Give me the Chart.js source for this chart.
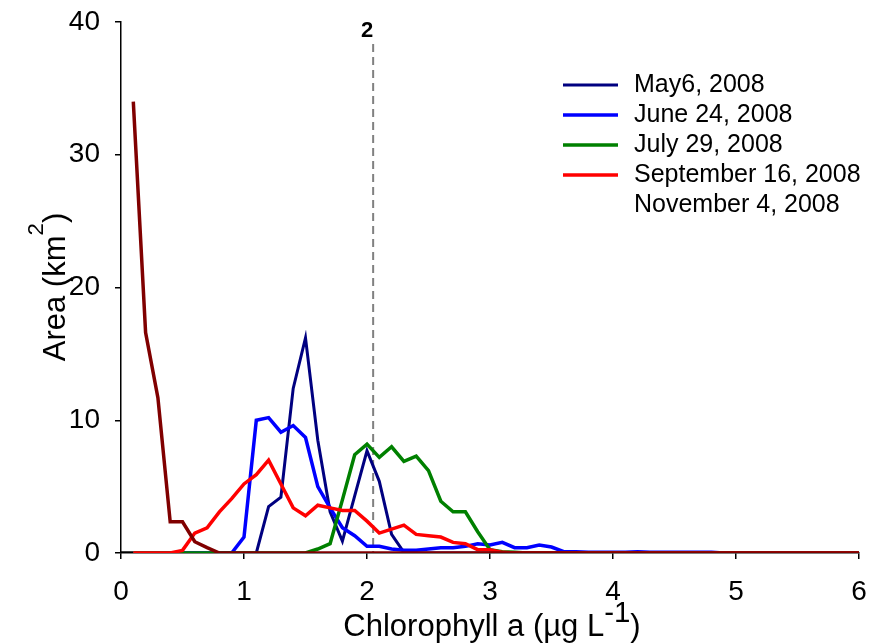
<!DOCTYPE html>
<html>
<head>
<meta charset="utf-8">
<script src="https://cdn.jsdelivr.net/npm/chart.js@4.4.1/dist/chart.umd.min.js"></script>
<style>
  html, body { margin: 0; padding: 0; background: #fff; }
</style>
</head>
<body>
<canvas id="grafico-clorofila" width="870" height="643"></canvas>
<script>
// Clorofila a (µg L-1), un valor cada 0.1
const clorofila = [
  0.1, 0.2, 0.3, 0.4, 0.5, 0.6, 0.7, 0.8, 0.9, 1.0,
  1.1, 1.2, 1.3, 1.4, 1.5, 1.6, 1.7, 1.8, 1.9, 2.0,
  2.1, 2.2, 2.3, 2.4, 2.5, 2.6, 2.7, 2.8, 2.9, 3.0,
  3.1, 3.2, 3.3, 3.4, 3.5, 3.6, 3.7, 3.8, 3.9, 4.0,
  4.1, 4.2, 4.3, 4.4, 4.5, 4.6, 4.7, 4.8, 4.9, 5.0,
  5.1, 5.2, 5.3, 5.4, 5.5, 5.6, 5.7, 5.8, 5.9, 6.0
];

// Area (km2) por fecha
const mayo6 = [
  0, 0, 0, 0, 0, 0, 0, 0, 0, 0,
  0, 3.5, 4.2, 12.4, 16.2, 8.5, 3.1, 0.9, 4.3, 7.7,
  5.4, 1.4, 0.05, 0, 0, 0, 0, 0, 0, 0,
  0, 0, 0, 0, 0, 0, 0, 0, 0, 0,
  0, 0, 0, 0, 0, 0, 0, 0, 0, 0,
  0, 0, 0, 0, 0, 0, 0, 0, 0, 0
];
const junio24 = [
  0, 0, 0, 0, 0, 0, 0, 0, 0, 1.2,
  10.0, 10.2, 9.1, 9.6, 8.7, 5.0, 3.4, 1.9, 1.3, 0.5,
  0.5, 0.3, 0.2, 0.2, 0.3, 0.4, 0.4, 0.5, 0.7, 0.6,
  0.8, 0.4, 0.4, 0.6, 0.45, 0.1, 0.1, 0.05, 0.05, 0.05,
  0.05, 0.1, 0.05, 0.05, 0.05, 0.05, 0.05, 0.05, 0, 0,
  0, 0, 0, 0, 0, 0, 0, 0, 0, 0
];
const julio29 = [
  0, 0, 0, 0, 0, 0, 0, 0, 0, 0,
  0, 0, 0, 0, 0, 0.3, 0.7, 4.0, 7.4, 8.2,
  7.2, 8.0, 6.9, 7.3, 6.2, 3.9, 3.1, 3.1, 1.6, 0.25,
  0.1, 0.05, 0, 0, 0, 0, 0, 0, 0, 0,
  0, 0, 0, 0, 0, 0, 0, 0, 0, 0,
  0, 0, 0, 0, 0, 0, 0, 0, 0, 0
];
const septiembre16 = [
  0, 0, 0, 0, 0.2, 1.5, 1.9, 3.1, 4.1, 5.2,
  5.9, 7.0, 5.2, 3.4, 2.8, 3.6, 3.4, 3.2, 3.2, 2.4,
  1.5, 1.8, 2.1, 1.4, 1.3, 1.2, 0.8, 0.7, 0.25, 0.25,
  0.05, 0, 0, 0, 0, 0, 0, 0, 0, 0,
  0, 0, 0, 0, 0, 0, 0, 0, 0, 0,
  0, 0, 0, 0, 0, 0, 0, 0, 0, 0
];
const noviembre4 = [
  34.0, 16.6, 11.7, 2.35, 2.35, 0.85, 0.4, 0, 0, 0,
  0, 0, 0, 0, 0, 0, 0, 0, 0, 0,
  0, 0, 0, 0, 0, 0, 0, 0, 0, 0,
  0, 0, 0, 0, 0, 0, 0, 0, 0, 0,
  0, 0, 0, 0, 0, 0, 0, 0, 0, 0,
  0, 0, 0, 0, 0, 0, 0, 0, 0, 0
];
// tramo negro entre 0 y 0.1
const tramoX = [0, 0.1];
const tramoY = [0, 0];

const etiquetas = ["May6, 2008", "June 24, 2008", "July 29, 2008", "September 16, 2008", "November 4, 2008"];
const ticksX = [0, 1, 2, 3, 4, 5, 6];
const ticksY = [0, 10, 20, 30, 40];
const umbral = 2.05;
const umbralTexto = "2";

const fuente = '"Liberation Sans", Arial, Helvetica, sans-serif';

function puntos(xs, ys) {
  return xs.map((x, i) => ({ x: x, y: ys[i] }));
}

function serie(label, datos, color, grosor, orden, muestra) {
  return {
    label: label,
    data: puntos(clorofila, datos),
    borderColor: color,
    backgroundColor: color,
    borderWidth: grosor,
    pointRadius: 0,
    tension: 0,
    fill: false,
    order: orden,
    muestra: muestra
  };
}

// Dibuja texto con superindice centrado en (cx, y)
function textoSup(ctx, partes, size, cx, y) {
  let ancho = 0;
  partes.forEach(p => {
    ctx.font = `${size * (p.esc || 1)}px ${fuente}`;
    p.w = ctx.measureText(p.t).width;
    ancho += p.w;
  });
  let x = cx - ancho / 2;
  ctx.textAlign = "left";
  ctx.textBaseline = "alphabetic";
  partes.forEach(p => {
    ctx.font = `${size * (p.esc || 1)}px ${fuente}`;
    ctx.fillText(p.t, x, y - (p.sube || 0) * size);
    x += p.w;
  });
}

const titulos = {
  id: "titulos",
  afterDraw(chart) {
    const ctx = chart.ctx;
    ctx.save();
    ctx.fillStyle = "#000";
    // eje x
    textoSup(ctx, [
      { t: "Chlorophyll a (\u00b5g L" },
      { t: "-1", esc: 0.95, sube: 0.45 },
      { t: ")" }
    ], 31, 492, 636);
    // eje y
    ctx.translate(65, 287);
    ctx.rotate(-Math.PI / 2);
    textoSup(ctx, [
      { t: "Area (km" },
      { t: "2", esc: 0.72, sube: 0.7 },
      { t: ")" }
    ], 31, 0, 0);
    ctx.restore();
  }
};

const lineaUmbral = {
  id: "lineaUmbral",
  beforeDatasetsDraw(chart) {
    const ctx = chart.ctx;
    const x = chart.scales.x.getPixelForValue(umbral);
    ctx.save();
    ctx.strokeStyle = "#808080";
    ctx.lineWidth = 2;
    ctx.setLineDash([8, 5]);
    ctx.beginPath();
    ctx.moveTo(x, 44);
    ctx.lineTo(x, chart.chartArea.bottom);
    ctx.stroke();
    ctx.setLineDash([]);
    ctx.fillStyle = "#000";
    ctx.font = `bold 22px ${fuente}`;
    ctx.textAlign = "center";
    ctx.textBaseline = "middle";
    ctx.fillText(umbralTexto, chart.scales.x.getPixelForValue(2), 31);
    ctx.restore();
  }
};

const leyenda = {
  id: "leyenda",
  afterDraw(chart) {
    const ctx = chart.ctx;
    ctx.save();
    ctx.font = `25px ${fuente}`;
    ctx.textAlign = "left";
    ctx.textBaseline = "middle";
    etiquetas.forEach((etq, i) => {
      const ds = chart.data.datasets.find(d => d.label === etq);
      const y = 85 + i * 30;
      if (ds.muestra) {
        ctx.strokeStyle = ds.borderColor;
        ctx.lineWidth = ds.borderWidth;
        ctx.beginPath();
        ctx.moveTo(563, y);
        ctx.lineTo(618, y);
        ctx.stroke();
      }
      ctx.fillStyle = "#000";
      ctx.fillText(etq, 634, y);
    });
    ctx.restore();
  }
};

// Quitar el relleno automatico que Chart.js reserva para las etiquetas
function sinRelleno(s) {
  s.paddingLeft = 0;
  s.paddingRight = 0;
  s.paddingTop = 0;
  s.paddingBottom = 0;
}

const ctx = document.getElementById("grafico-clorofila").getContext("2d");
new Chart(ctx, {
  type: "line",
  data: {
    datasets: [
      serie(etiquetas[0], mayo6, "#000080", 3, 4, true),
      serie(etiquetas[1], junio24, "#0000ff", 3.5, 3, true),
      serie(etiquetas[2], julio29, "#008000", 3.5, 2, true),
      serie(etiquetas[3], septiembre16, "#ff0000", 3.5, 1, true),
      serie(etiquetas[4], noviembre4, "#800000", 3.5, 0, false),
      {
        label: "",
        data: puntos(tramoX, tramoY),
        borderColor: "#000000",
        borderWidth: 3.5,
        pointRadius: 0,
        order: 5
      }
    ]
  },
  options: {
    responsive: false,
    devicePixelRatio: 1,
    animation: false,
    layout: { padding: { top: 22, right: 11, left: 0, bottom: 0 } },
    plugins: {
      legend: { display: false },
      tooltip: { enabled: false }
    },
    scales: {
      x: {
        type: "linear",
        min: 0,
        max: 6,
        afterBuildTicks: s => { s.ticks = ticksX.map(v => ({ value: v })); },
        afterFit: s => { s.height = 90; sinRelleno(s); },
        ticks: { color: "#000", font: { family: fuente, size: 28 }, padding: 16, maxRotation: 0 },
        grid: { drawOnChartArea: false, drawTicks: true, tickLength: 6, color: "#000", lineWidth: 1.5 },
        border: { display: true, color: "#000", width: 1.5 }
      },
      y: {
        type: "linear",
        min: 0,
        max: 40,
        afterBuildTicks: s => { s.ticks = ticksY.map(v => ({ value: v })); },
        afterFit: s => { s.width = 121; sinRelleno(s); },
        ticks: { color: "#000", font: { family: fuente, size: 28 }, padding: 15 },
        grid: { drawOnChartArea: false, drawTicks: true, tickLength: 6, color: "#000", lineWidth: 1.5 },
        border: { display: true, color: "#000", width: 1.5 }
      }
    }
  },
  plugins: [lineaUmbral, titulos, leyenda]
});
</script>
</body>
</html>
